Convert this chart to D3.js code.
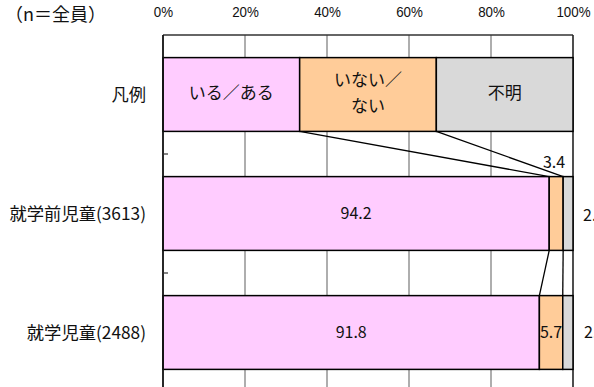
<!DOCTYPE html>
<html>
<head>
<meta charset="utf-8">
<script src="https://cdn.jsdelivr.net/npm/d3@7"></script>
<style>
  html, body { margin: 0; padding: 0; background: #fff; }
  svg { display: block; font-family: "Noto Sans CJK JP", "Noto Sans", sans-serif; }
</style>
</head>
<body>
<svg id="chart" width="594" height="387"></svg>
<script>
// Respondent groups (top row is the legend bar)
const categories = ["凡例", "就学前児童(3613)", "就学児童(2488)"];
const seriesNames = ["いる／ある", "いない／ない", "不明"];
const legendShares = [100 / 3, 100 / 3, 100 / 3];
const preschoolValues = [94.2, 3.4, 2.4];
const schoolValues = [91.8, 5.7, 2.5];
const xTicks = [0, 20, 40, 60, 80, 100];
const seriesColors = ["#ffccff", "#ffcc99", "#d9d9d9"];

const rows = [
  { name: categories[0], values: legendShares, legend: true },
  { name: categories[1], values: preschoolValues },
  { name: categories[2], values: schoolValues }
];

const svg = d3.select("#chart");
const plotLeft = 163, plotRight = 573, plotTop = 35, plotBottom = 392;

const x = d3.scaleLinear().domain([0, 100]).range([plotLeft, plotRight]);
const y = d3.scaleBand().domain(categories).range([plotTop, plotBottom])
  .paddingInner(0.38).paddingOuter(0.19);

// stacked segments
rows.forEach(r => {
  let acc = 0;
  r.segs = r.values.map((v, i) => {
    const s = { i, v, x0: acc, x1: acc + v };
    acc += v;
    return s;
  });
});

// gridlines
svg.append("g").selectAll("line").data(xTicks.filter(d => d > 0 && d < 100)).join("line")
  .attr("x1", d => x(d)).attr("x2", d => x(d))
  .attr("y1", plotTop).attr("y2", 387)
  .attr("stroke", "#8c8c8c").attr("stroke-width", 1.4);

// plot frame: top and right edges
svg.append("line").attr("x1", plotLeft).attr("x2", plotRight).attr("y1", plotTop).attr("y2", plotTop)
  .attr("stroke", "#333").attr("stroke-width", 1.4);
svg.append("line").attr("x1", plotRight).attr("x2", plotRight).attr("y1", plotTop).attr("y2", 387)
  .attr("stroke", "#222").attr("stroke-width", 1.6);

// top percentage axis (slightly condensed labels)
const xAxis = d3.axisTop(x).tickValues(xTicks).tickFormat(d => d + "%").tickSize(0);
const gx = svg.append("g").attr("transform", "translate(0,20)").call(xAxis);
gx.select(".domain").remove();
gx.selectAll("text").attr("font-family", "'Liberation Sans', Arial, sans-serif")
  .attr("font-size", 14.5).attr("fill", "#111").attr("dy", 0)
  .attr("transform", "scale(0.92,1)");

// series lines connecting segment boundaries between rows
for (let r = 0; r < rows.length - 1; r++) {
  const a = rows[r], b = rows[r + 1];
  [0, 1].forEach(k => {
    svg.append("line")
      .attr("x1", x(a.segs[k].x1)).attr("y1", y(a.name) + y.bandwidth())
      .attr("x2", x(b.segs[k].x1)).attr("y2", y(b.name))
      .attr("stroke", "#000").attr("stroke-width", 1.3);
  });
}

// bars
rows.forEach(r => {
  svg.append("g").selectAll("rect").data(r.segs).join("rect")
    .attr("x", d => x(d.x0)).attr("width", d => x(d.x1) - x(d.x0))
    .attr("y", y(r.name)).attr("height", y.bandwidth())
    .attr("fill", d => seriesColors[d.i])
    .attr("stroke", "#000").attr("stroke-width", 1.5);
});

// left axis with inward ticks at band boundaries
svg.append("line").attr("x1", plotLeft).attr("x2", plotLeft).attr("y1", plotTop).attr("y2", 387)
  .attr("stroke", "#111").attr("stroke-width", 1.8);
const boundaries = categories.slice(1).map(c => y(c) - (y.step() - y.bandwidth()) / 2);
svg.append("g").selectAll("line").data(boundaries).join("line")
  .attr("x1", plotLeft).attr("x2", plotLeft + 5)
  .attr("y1", d => d).attr("y2", d => d)
  .attr("stroke", "#333").attr("stroke-width", 1.2);

// category labels
svg.append("g").selectAll("text").data(categories).join("text")
  .attr("x", 146).attr("y", d => y(d) + y.bandwidth() / 2 + 1.5)
  .attr("text-anchor", "end").attr("dominant-baseline", "middle")
  .attr("font-size", 17.3).attr("fill", "#111").text(d => d);

// legend bar text
const legendRow = rows[0];
const legendLines = [["いる／ある"], ["いない／", "ない"], ["不明"]];
legendRow.segs.forEach((s, i) => {
  const cx = x((s.x0 + s.x1) / 2);
  const cy = y(legendRow.name) + y.bandwidth() / 2;
  const lines = legendLines[i];
  lines.forEach((t, j) => {
    svg.append("text").attr("x", cx)
      .attr("y", cy + (j - (lines.length - 1) / 2) * 26)
      .attr("text-anchor", "middle").attr("dominant-baseline", "middle")
      .attr("font-size", 17).attr("fill", "#111").text(t);
  });
});

// data labels
const fmt = d3.format(".1f");
const label = (px, py, txt, anchor) => svg.append("text")
  .attr("x", px).attr("y", py).attr("text-anchor", anchor)
  .attr("dominant-baseline", "middle").attr("font-size", 16)
  .attr("fill", "#111").text(txt);

const pre = rows[1], sch = rows[2];
const preMid = y(pre.name) + y.bandwidth() / 2;
const schMid = y(sch.name) + y.bandwidth() / 2;
label(x((pre.segs[0].x0 + pre.segs[0].x1) / 2), preMid + 1, fmt(pre.segs[0].v), "middle");
label(x(pre.segs[1].x1) + 2, y(pre.name) - 13, fmt(pre.segs[1].v), "end");
label(x(100) + 10, preMid + 3, fmt(pre.segs[2].v), "start");
label(x((sch.segs[0].x0 + sch.segs[0].x1) / 2), schMid + 1, fmt(sch.segs[0].v), "middle");
label(x((sch.segs[1].x0 + sch.segs[1].x1) / 2), schMid + 1, fmt(sch.segs[1].v), "middle");
label(x(100) + 11, schMid + 1, fmt(sch.segs[2].v), "start");

// sample note
svg.append("text").attr("x", 5).attr("y", 16).attr("dominant-baseline", "middle")
  .attr("font-size", 18).attr("fill", "#111").text("（n＝全員）");
</script>
</body>
</html>
